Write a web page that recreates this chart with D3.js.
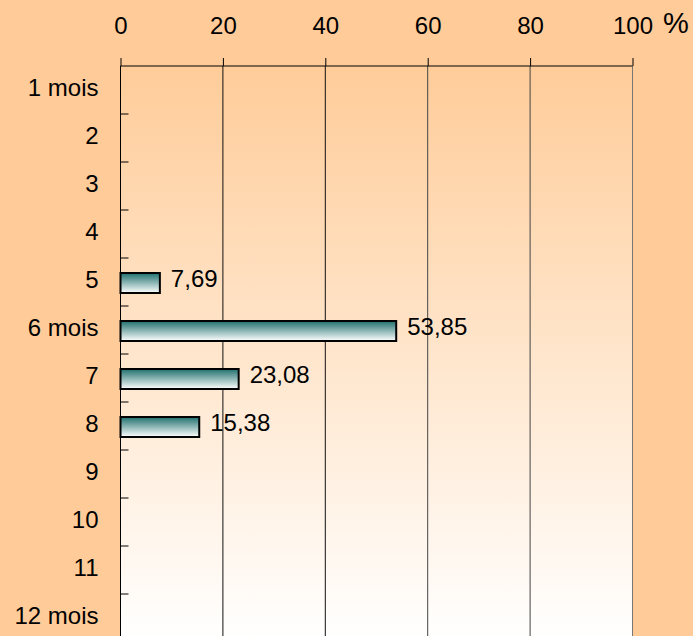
<!DOCTYPE html>
<html><head><meta charset="utf-8">
<script src="https://cdn.jsdelivr.net/npm/d3@7"></script>
<style>body{margin:0;background:#FFCC99;} svg{display:block;font-family:Arial,"Liberation Sans",sans-serif;}</style>
</head><body>
<script>
const categories = ["1 mois","2","3","4","5","6 mois","7","8","9","10","11","12 mois"];
const values = [null,null,null,null,7.69,53.85,23.08,15.38,null,null,null,null];
const valueLabels = ["","","","","7,69","53,85","23,08","15,38","","","",""];
const xTicks = [0,20,40,60,80,100];

(function(){
const W = 693, H = 636;
const pLeft = 120.5, pRight = 632.5, pTop = 66, pBottom = 642;
const FONT = "Arial,'Liberation Sans',sans-serif";
const svg = d3.select("body").append("svg").attr("width", W).attr("height", H);
const defs = svg.append("defs");
const bg = defs.append("linearGradient").attr("id","bg").attr("x1",0).attr("y1",0).attr("x2",0).attr("y2",1);
bg.append("stop").attr("offset","0%").attr("stop-color","#FFCC99");
bg.append("stop").attr("offset","100%").attr("stop-color","#FFFFFF");
const bar = defs.append("linearGradient").attr("id","bar").attr("x1",0).attr("y1",0).attr("x2",0).attr("y2",1);
bar.append("stop").attr("offset","0%").attr("stop-color","#1F706E");
bar.append("stop").attr("offset","100%").attr("stop-color","#FFFFFF");

svg.append("rect").attr("width",W).attr("height",H).attr("fill","#FFCC99");

const x = d3.scaleLinear().domain([0,100]).range([pLeft, pRight]);
const y = d3.scaleBand().domain(categories).range([pTop, pBottom]);

svg.append("rect").attr("x",pLeft).attr("y",pTop).attr("width",pRight-pLeft).attr("height",pBottom-pTop).attr("fill","url(#bg)");

// gridlines
const gridCol = {20:"#111",40:"#111",60:"#444",80:"#444",100:"#777"};
svg.append("g").selectAll("line").data(xTicks.slice(1)).join("line")
  .attr("x1",d=>x(d)).attr("x2",d=>x(d)).attr("y1",pTop).attr("y2",H)
  .attr("stroke", d=> gridCol[d]).attr("stroke-width",1);

// top axis
const xa = svg.append("g").attr("transform",`translate(0,${pTop})`)
  .call(d3.axisTop(x).tickValues(xTicks).tickSize(8).tickPadding(24).tickFormat(d3.format("d")));
xa.attr("font-size",null).attr("font-family",null);
xa.select(".domain").attr("stroke","#000").attr("d",`M${pLeft},0H${pRight}`);
xa.selectAll(".tick line").attr("stroke","#000");
xa.selectAll("text").style("font-size","24px").attr("fill","#000").style("font-family",FONT);

svg.append("text").attr("x",663).attr("y",33).style("font-size","29px").style("font-family",FONT).text("%");

// left axis
const ya = svg.append("g").attr("transform",`translate(${pLeft},0)`)
  .call(d3.axisLeft(y).tickSize(0).tickPadding(22));
ya.attr("font-size",null).attr("font-family",null);
ya.select(".domain").attr("stroke","#000").attr("d",`M0,${pTop}V${H}`);
ya.selectAll("text").style("font-size","24px").attr("fill","#000").style("font-family",FONT).attr("dy","0.25em");
// band boundary ticks
svg.append("g").selectAll("line").data(categories.slice(1)).join("line")
  .attr("x1",pLeft).attr("x2",pLeft+8).attr("y1",d=>y(d)).attr("y2",d=>y(d))
  .attr("stroke","#000");

const data = categories.map((c,i)=>({c, v: values[i], l: valueLabels[i]})).filter(d=>d.v!=null);
const bh = 20;
svg.append("g").selectAll("rect").data(data).join("rect")
  .attr("x",x(0)).attr("y",d=>y(d.c)+y.bandwidth()/2-bh/2+1)
  .attr("width",d=>x(d.v)-x(0)).attr("height",bh)
  .attr("fill","url(#bar)").attr("stroke","#000").attr("stroke-width",2);

svg.append("g").selectAll("text").data(data).join("text")
  .attr("x",d=>x(d.v)+11).attr("y",d=>y(d.c)+y.bandwidth()/2+5)
  .style("font-size","24px").style("font-family",FONT).text(d=>d.l);
})();
</script>
</body></html>
